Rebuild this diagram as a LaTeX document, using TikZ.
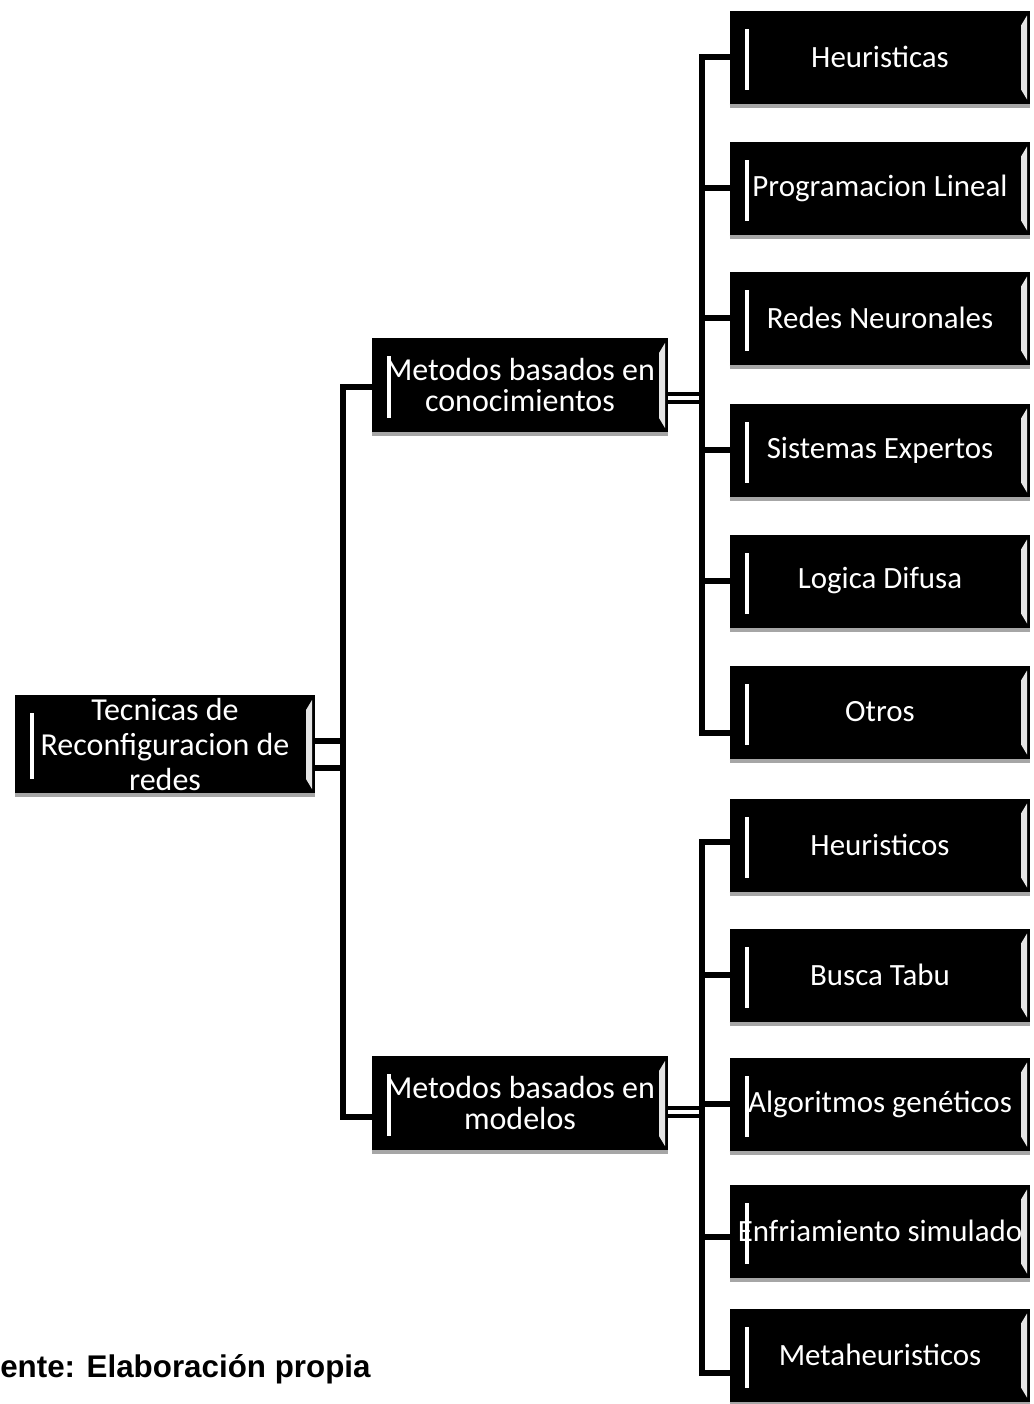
\documentclass[tikz,border=0pt]{standalone}
\usepackage{fontspec}
\setmainfont{Carlito}
\newfontfamily\notefont{Liberation Sans}
\usetikzlibrary{calc}

\tikzset{
  box/.style={
    fill=black, text=white, inner sep=0pt, align=center,
    font=\fontsize{23.2}{26}\selectfont,
    minimum width=225pt, minimum height=69.75pt,
    path picture={
      % bevel highlights at the inner left and right edges
      \fill[white]
        ($(path picture bounding box.north west)+(15,18)$) rectangle
        ($(path picture bounding box.south west)+(19,-14)$);
      \fill[black!10]
        ($(path picture bounding box.north east)+(-3,5)$) --
        ($(path picture bounding box.north east)+(-9,15)$) --
        ($(path picture bounding box.south east)+(-9,-14)$) --
        ($(path picture bounding box.south east)+(-3,-4)$) -- cycle;
    }
  },
  midbox/.style={box, minimum width=222pt, minimum height=70.5pt,
    font=\fontsize{24}{23.5}\selectfont},
  rootbox/.style={box, minimum height=73.5pt,
    font=\fontsize{24}{26.25}\selectfont},
  conn/.style={line width=3.9pt, black},
  twin/.style={line width=3pt, black},
  rootline/.style={line width=4pt, black},
  shadowline/.style={line width=3pt, black!35},
}

\begin{document}
\begin{tikzpicture}[x=0.75pt, y=-0.75pt]
\useasboundingbox (0,0) rectangle (1033,1404);

% bus positions
\coordinate (trunk) at (343,744);
\coordinate (bus1) at (702,400);
\coordinate (bus2) at (702,1100);

% boxes
\node[rootbox] (root) at (165,744) {Tecnicas de\\Reconfiguracion de\\redes};
\node[midbox] (conoc) at (520,385) {Metodos basados en\\conocimientos};
\node[midbox] (model) at (520,1103) {Metodos basados en\\modelos};

\node[box] (a1) at (880,57)  {Heuristicas};
\node[box] (a2) at (880,188) {Programacion Lineal};
\node[box] (a3) at (880,318) {Redes Neuronales};
\node[box] (a4) at (880,450) {Sistemas Expertos};
\node[box] (a5) at (880,581) {Logica Difusa};
\node[box] (a6) at (880,712) {Otros};

\node[box] (b1) at (880,845)  {Heuristicos};
\node[box] (b2) at (880,975)  {Busca Tabu};
\node[box] (b3) at (880,1104) {Algoritmos genéticos};
\node[box] (b4) at (880,1231) {Enfriamiento simulado};
\node[box] (b5) at (880,1355) {Metaheuristicos};

% soft shadow along the lower edge of every box
\foreach \n in {root,conoc,model,a1,a2,a3,a4,a5,a6,b1,b2,b3,b4,b5}{
  \draw[shadowline] ($(\n.south west)+(0,2)$) -- ($(\n.south east)+(0,2)$);
}

% root to the two method groups
\coordinate (r1) at ($(root.east)+(0,-3)$);
\coordinate (r2) at ($(root.east)+(0,24)$);
\draw[rootline] (r1) -- (r1 -| trunk);
\draw[rootline] (r2) -- (r2 -| trunk);
\coordinate (cw) at ($(conoc.west)+(0,2)$);
\coordinate (mw) at ($(model.west)+(0,14)$);
\draw[conn] (cw) -| (trunk) |- (mw);

% first group
\coordinate (c1) at ($(conoc.east)+(0,9)$);
\coordinate (c2) at ($(conoc.east)+(0,17)$);
\draw[twin] (c1) -- (c1 -| bus1);
\draw[twin] (c2) -- (c2 -| bus1);
\coordinate (a6w) at ($(a6.west)+(0,21)$);
\draw[conn] (a1.west) -| (bus1) |- (a6w);
\foreach \n in {a2,a3,a4,a5}{
  \draw[conn] (\n.west) -- (\n.west -| bus1);
}

% second group
\coordinate (m1) at ($(model.east)+(0,5)$);
\coordinate (m2) at ($(model.east)+(0,13)$);
\draw[twin] (m1) -- (m1 -| bus2);
\draw[twin] (m2) -- (m2 -| bus2);
\coordinate (b1w) at ($(b1.west)+(0,-3)$);
\coordinate (b4w) at ($(b4.west)+(0,6)$);
\coordinate (b5w) at ($(b5.west)+(0,18)$);
\draw[conn] (b1w) -| (bus2) |- (b5w);
\foreach \n in {b2,b3}{
  \draw[conn] (\n.west) -- (\n.west -| bus2);
}
\draw[conn] (b4w) -- (b4w -| bus2);

% source note
\node[anchor=base west, inner sep=0pt, font=\notefont\bfseries\fontsize{23.5}{26}\selectfont]
  (note) at (0,1377) {ente: Elaboración propia};
\end{tikzpicture}
\end{document}
